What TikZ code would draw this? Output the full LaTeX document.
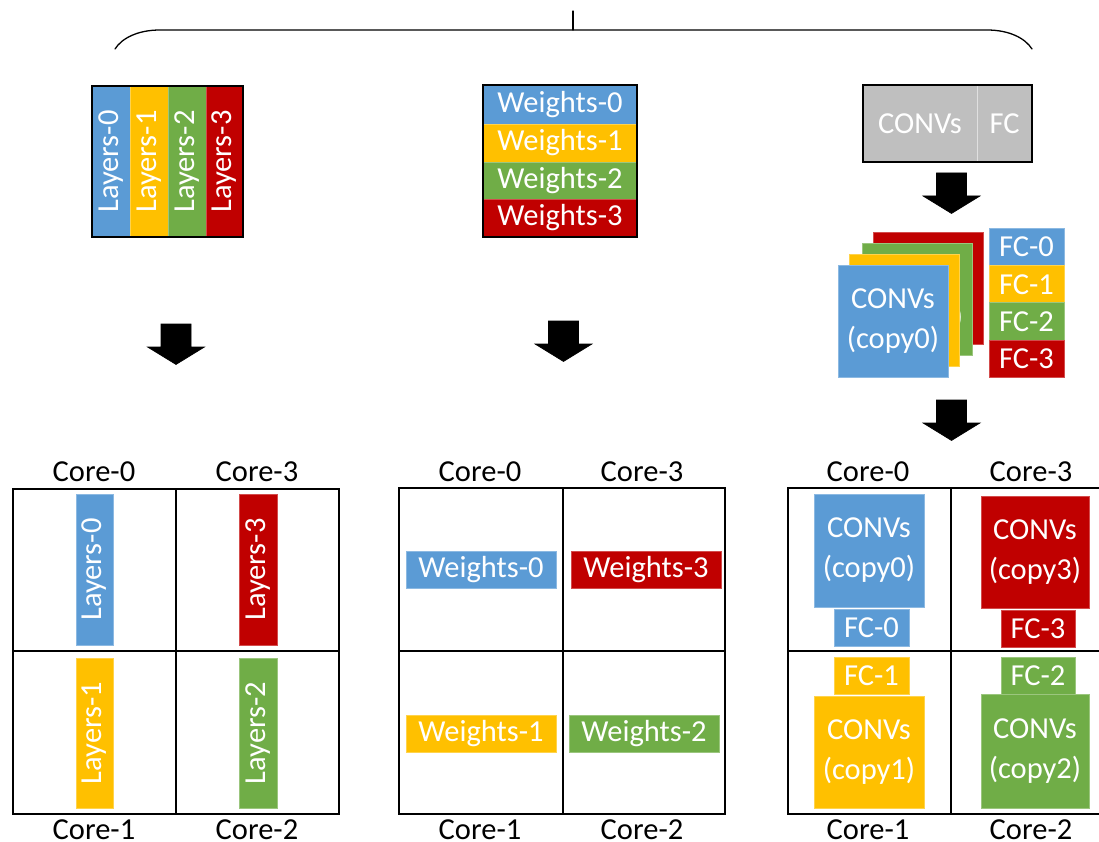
\documentclass[tikz,border=0pt]{standalone}
\usepackage{fontspec}
\setmainfont{Carlito}
\definecolor{cblue}{HTML}{5B9BD5}
\definecolor{cyellow}{HTML}{FFC000}
\definecolor{cgreen}{HTML}{70AD47}
\definecolor{cred}{HTML}{C00000}
\definecolor{cgray}{HTML}{BFBFBF}

\begin{document}
\begin{tikzpicture}[x=1pt,y=-1pt,
  wh/.style 2 args={minimum width=#1, minimum height=#2},
  blk/.style={rectangle, inner sep=0pt, outer sep=0pt, text=white, align=center,
    line width=0.8pt, font=\fontsize{30.5}{40}\selectfont},
  b0/.style={blk, fill=cblue, draw=cblue!70!white},
  b1/.style={blk, fill=cyellow, draw=cyellow!70!white},
  b2/.style={blk, fill=cgreen, draw=cgreen!70!white},
  b3/.style={blk, fill=cred, draw=cred!70!white},
  bg/.style={blk, fill=cgray, draw=none},
  frame/.style={rectangle, inner sep=0pt, outer sep=0pt, draw=black, line width=2.8pt},
  cell/.style={frame},
  core/.style={font=\fontsize{30.5}{36}\selectfont, anchor=base, inner sep=0pt},
  brace/.style={line width=1.3pt, line cap=round},
  pics/blockarrow/.style={code={
    \filldraw[black, line width=0.6pt, line join=miter]
      (-15,0) -- (15,0) -- (15,23) -- (28.5,23) -- (0,40.5)
      -- (-28.5,23) -- (-15,23) -- cycle;}}
]
\useasboundingbox (0,0) rectangle (1099,842);
\clip (0,0) rectangle (1099,842);

% overall brace
\coordinate (bl) at (115,49);
\coordinate (br) at (1032,49);
\coordinate (bt) at (573,11);
\coordinate (bm) at (573,30);
\draw[brace] (bl) .. controls (122,38) and (138,30) .. (160,30) -- (987,30)
  .. controls (1009,30) and (1025,38) .. (br);
\draw[brace] (bt) -- (bm);

% ---------- left column: layers ----------
\node[b0, wh={38}{151}] (L0) at (111,161.5)   {\rotatebox{90}{Layers-0}};
\node[b1, wh={38}{151}] (L1) at (149,161.5)   {\rotatebox{90}{Layers-1}};
\node[b2, wh={38}{151}] (L2) at (187,161.5)   {\rotatebox{90}{Layers-2}};
\node[b3, wh={37}{151}] (L3) at (224.5,161.5) {\rotatebox{90}{Layers-3}};
\node[frame, wh={151}{151}] (Lbox) at (167.5,161.5) {};

\pic at (176,324) {blockarrow};

\node[cell, wh={163}{162}] (Lc0) at (94.5,570) {};
\node[cell, wh={163}{162}] (Lc3) at (257.5,570) {};
\node[cell, wh={163}{163}] (Lc1) at (94.5,732.5) {};
\node[cell, wh={163}{163}] (Lc2) at (257.5,732.5) {};
\node[core] (Lk0) at (94,481) {Core-0};
\node[core] (Lk3) at (257,481) {Core-3};
\node[core] (Lk1) at (94,839) {Core-1};
\node[core] (Lk2) at (257,839) {Core-2};
\node[b0, wh={37}{151}] (gL0) at (94.5,569.5) {\rotatebox{90}{Layers-0}};
\node[b3, wh={38}{151}] (gL3) at (258,569.5)  {\rotatebox{90}{Layers-3}};
\node[b1, wh={37}{150}] (gL1) at (94.5,733)   {\rotatebox{90}{Layers-1}};
\node[b2, wh={38}{150}] (gL2) at (258,733)    {\rotatebox{90}{Layers-2}};

% ---------- middle column: weights ----------
\node[b0, wh={154}{39}]   (W0) at (560,104.5) {Weights-0};
\node[b1, wh={154}{38}]   (W1) at (560,143)   {Weights-1};
\node[b2, wh={154}{37}]   (W2) at (560,180.5) {Weights-2};
\node[b3, wh={154}{38}]   (W3) at (560,218)   {Weights-3};
\node[frame, wh={154}{152}] (Wbox) at (560,161) {};

\pic at (563.5,321) {blockarrow};

\node[cell, wh={164}{163}] (Mc0) at (481,569.5) {};
\node[cell, wh={162}{163}] (Mc3) at (644,569.5) {};
\node[cell, wh={164}{163}] (Mc1) at (481,732.5) {};
\node[cell, wh={162}{163}] (Mc2) at (644,732.5) {};
\node[core] (Mk0) at (480,481) {Core-0};
\node[core] (Mk3) at (642,481) {Core-3};
\node[core] (Mk1) at (480,839) {Core-1};
\node[core] (Mk2) at (642,839) {Core-2};
\node[b0, wh={150}{37}] (gW0) at (481,569.5) {Weights-0};
\node[b3, wh={150}{37}] (gW3) at (646,569.5) {Weights-3};
\node[b1, wh={150}{37}] (gW1) at (481,733.5) {Weights-1};
\node[b2, wh={150}{37}] (gW2) at (644,733.5) {Weights-2};

% ---------- right column: CONVs + FC ----------
\node[bg, wh={114}{77}] (Cv) at (920,123.5)    {CONVs};
\node[bg, wh={55}{77}]  (Fc) at (1004.5,123.5) {FC};
\draw[white!88!black, line width=1pt] (Cv.north east) -- (Cv.south east);
\node[frame, wh={169}{77}] (Cbox) at (947.5,123.5) {};

\pic at (951.5,173) {blockarrow};

% stacked copies, back to front
\node[b3, wh={110}{112}] (S3) at (928.5,288.5) {CONVs\\(copy3)};
\node[b2, wh={110}{112}] (S2) at (917,299.5)   {CONVs\\(copy2)};
\node[b1, wh={110}{112}] (S1) at (904.5,310.5) {CONVs\\(copy1)};
\node[b0, wh={110}{112}] (S0) at (893,321)     {CONVs\\(copy0)};
\node[b0, wh={75}{37.5}] (F0) at (1026.5,246.75) {FC-0};
\node[b1, wh={75}{37.5}] (F1) at (1026.5,284.25) {FC-1};
\node[b2, wh={75}{37.5}] (F2) at (1026.5,321.5)  {FC-2};
\node[b3, wh={75}{37}]   (F3) at (1026.5,358.5)  {FC-3};

\pic at (951.5,400) {blockarrow};

\node[cell, wh={163}{163}] (Rc0) at (869.5,569.5) {};
\node[cell, wh={163}{163}] (Rc3) at (1032.5,569.5) {};
\node[cell, wh={163}{163}] (Rc1) at (869.5,732.5) {};
\node[cell, wh={163}{163}] (Rc2) at (1032.5,732.5) {};
\node[core] (Rk0) at (868,481) {Core-0};
\node[core] (Rk3) at (1031,481) {Core-3};
\node[core] (Rk1) at (868,839) {Core-1};
\node[core] (Rk2) at (1031,839) {Core-2};
\node[b0, wh={110}{113}] (gC0) at (869,550.5)  {CONVs\\(copy0)};
\node[b0, wh={75}{37}]   (gF0) at (871.5,627.5) {FC-0};
\node[b3, wh={108}{112}] (gC3) at (1035,552)   {CONVs\\(copy3)};
\node[b3, wh={74}{37}]   (gF3) at (1038,628.5) {FC-3};
\node[b1, wh={75}{37}]   (gF1) at (871.5,675.5) {FC-1};
\node[b1, wh={110}{112}] (gC1) at (869,752)    {CONVs\\(copy1)};
\node[b2, wh={74}{37}]   (gF2) at (1038,675.5) {FC-2};
\node[b2, wh={108}{114}] (gC2) at (1035,751)   {CONVs\\(copy2)};
\end{tikzpicture}
\end{document}
